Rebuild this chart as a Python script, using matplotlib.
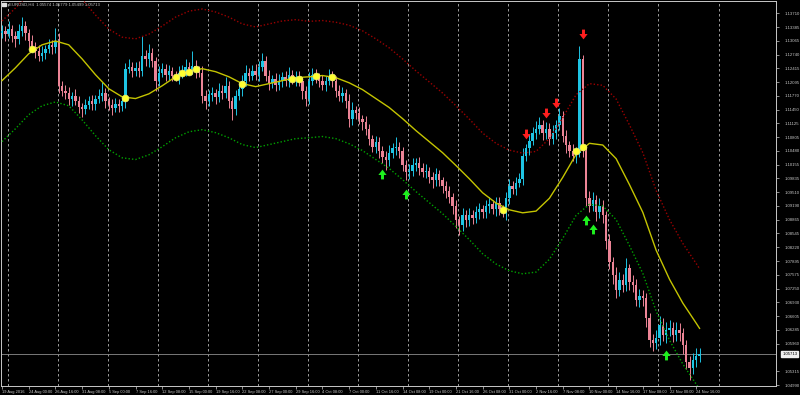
import matplotlib
matplotlib.use('Agg')
import matplotlib.pyplot as plt
import matplotlib.patches as mpatches
from matplotlib.path import Path
import numpy as np

# EURUSD H4 chart, prices kept in pips (price * 10000); one candle here = two H4 bars
title = 'EURUSD,H4  1.05574 1.05779 1.05499 1.05713'
last_price = 1.05713
open_first = 11325
closes = [
    11330, 11323, 11334, 11318, 11311, 11330, 11342, 11325, 11306, 11292,
    11283, 11271, 11278, 11288, 11297, 11292, 11306, 11201, 11189, 11185,
    11171, 11178, 11166, 11152, 11147, 11157, 11166, 11159, 11171, 11178,
    11185, 11166, 11157, 11150, 11159, 11154, 11166, 11241, 11246, 11236,
    11243, 11236, 11271, 11264, 11278, 11260, 11213, 11232, 11241, 11227,
    11236, 11225, 11222, 11232, 11236, 11246, 11241, 11248, 11236, 11232,
    11178, 11166, 11180, 11185, 11175, 11189, 11185, 11201, 11166, 11147,
    11178, 11194, 11213, 11232, 11225, 11236, 11227, 11246, 11260, 11225,
    11208, 11217, 11203, 11213, 11222, 11213, 11227, 11217, 11222, 11213,
    11189, 11171, 11213, 11227, 11222, 11213, 11203, 11213, 11222, 11213,
    11189, 11178, 11185, 11166, 11124, 11143, 11138, 11124, 11115, 11100,
    11077, 11058, 11068, 11049, 11035, 11026, 11044, 11054, 11058, 11049,
    11014, 10998, 11002, 11014, 11021, 11007, 10998, 11002, 10988, 10979,
    10993, 10979, 10965, 10955, 10941, 10920, 10885, 10874, 10897, 10885,
    10899, 10890, 10904, 10913, 10904, 10918, 10923, 10913, 10927, 10913,
    10909, 10937, 10967, 10960, 10974, 10983, 11037, 11054, 11072, 11091,
    11100, 11108, 11091, 11100, 11077, 11091, 11108, 11131, 11084, 11061,
    11049, 11037, 11044, 11264, 11049, 10937, 10920, 10932, 10904, 10920,
    10897, 10838, 10787, 10757, 10721, 10745, 10733, 10773, 10740, 10733,
    10698, 10707, 10703, 10656, 10604, 10597, 10609, 10640, 10616, 10628,
    10632, 10616, 10628, 10621, 10593, 10553, 10539, 10558, 10567, 10571]
upper_wick = [
    14, 10, 18, 9, 12, 16, 20, 11, 9, 14,
    11, 13, 16, 9, 14, 11, 31, 18, 11, 14,
    12, 9, 16, 11, 8, 14, 11, 13, 9, 16,
    24, 11, 9, 13, 14, 11, 9, 14, 18, 11,
    13, 16, 47, 14, 20, 11, 9, 16, 13, 11,
    14, 9, 11, 16, 13, 18, 11, 35, 14, 11,
    16, 13, 11, 14, 9, 18, 13, 20, 11, 9,
    14, 16, 13, 18, 11, 14, 16, 13, 19, 11,
    14, 9, 13, 16, 11, 14, 18, 11, 13, 14,
    9, 11, 20, 16, 13, 9, 14, 11, 18, 13,
    11, 14, 13, 9, 16, 20, 11, 13, 9, 14,
    11, 9, 16, 13, 11, 14, 18, 13, 22, 11,
    9, 13, 16, 18, 11, 14, 13, 16, 9, 11,
    14, 11, 9, 13, 11, 9, 14, 11, 18, 13,
    16, 11, 14, 13, 9, 16, 18, 11, 14, 13,
    9, 14, 16, 11, 13, 14, 18, 11, 16, 14,
    18, 20, 13, 16, 14, 18, 13, 18, 11, 14,
    11, 16, 13, 31, 9, 11, 16, 20, 13, 18,
    14, 11, 16, 13, 18, 20, 14, 24, 11, 16,
    14, 18, 16, 13, 11, 14, 20, 22, 16, 18,
    20, 14, 18, 16, 13, 11, 14, 16, 18, 14]
lower_wick = [
    13, 16, 9, 14, 18, 11, 13, 16, 14, 11,
    16, 13, 11, 14, 9, 16, 14, 18, 13, 16,
    14, 18, 11, 16, 20, 13, 11, 14, 16, 11,
    13, 16, 14, 18, 11, 14, 13, 16, 11, 14,
    11, 14, 13, 16, 18, 14, 24, 13, 11, 16,
    13, 14, 11, 16, 13, 11, 14, 13, 16, 11,
    18, 20, 13, 14, 16, 11, 14, 13, 18, 26,
    14, 11, 16, 13, 14, 11, 13, 16, 11, 14,
    16, 13, 14, 11, 16, 13, 14, 11, 16, 13,
    20, 18, 13, 11, 14, 16, 13, 14, 11, 16,
    14, 13, 16, 18, 20, 14, 16, 13, 18, 14,
    16, 13, 14, 18, 16, 22, 14, 13, 16, 18,
    14, 18, 16, 13, 14, 16, 11, 14, 16, 18,
    13, 14, 16, 18, 14, 20, 18, 24, 14, 16,
    13, 14, 11, 16, 13, 14, 16, 13, 18, 14,
    16, 24, 13, 14, 16, 11, 14, 13, 16, 11,
    14, 13, 18, 14, 16, 13, 14, 11, 16, 18,
    14, 13, 16, 11, 14, 18, 16, 13, 20, 14,
    18, 20, 16, 22, 18, 14, 16, 13, 18, 16,
    14, 16, 18, 20, 16, 18, 14, 16, 13, 18,
    14, 16, 13, 18, 20, 16, 28, 14, 16, 13]

# indicator values every 4 candles (plus the last candle)
ma_bar = list(range(0, 209, 4)) + [209]
ma_mid = [
    11213, 11243, 11276, 11297, 11306, 11297, 11264, 11227, 11194, 11175,
    11171, 11182, 11201, 11222, 11236, 11241, 11234, 11222, 11206, 11199,
    11206, 11213, 11220, 11222, 11225, 11220, 11208, 11192, 11171, 11150,
    11124, 11096, 11070, 11044, 11014, 10983, 10950, 10926, 10910, 10903,
    10907, 10937, 10986, 11040, 11066, 11062, 11030, 10969, 10904, 10815,
    10747, 10691, 10644, 10632]
ma_upper = [
    11353, 11383, 11416, 11437, 11446, 11437, 11404, 11367, 11334, 11315,
    11311, 11322, 11341, 11362, 11376, 11381, 11374, 11362, 11346, 11339,
    11346, 11353, 11356, 11352, 11354, 11350, 11343, 11330, 11311, 11290,
    11264, 11236, 11210, 11184, 11154, 11123, 11090, 11066, 11050, 11043,
    11047, 11077, 11126, 11180, 11206, 11202, 11170, 11109, 11044, 10955,
    10887, 10831, 10784, 10772]
ma_lower = [
    11070, 11100, 11133, 11154, 11163, 11154, 11121, 11084, 11051, 11032,
    11028, 11039, 11058, 11079, 11093, 11098, 11091, 11079, 11063, 11056,
    11063, 11070, 11077, 11079, 11082, 11077, 11065, 11049, 11028, 11007,
    10981, 10953, 10927, 10901, 10871, 10840, 10807, 10783, 10767, 10760,
    10764, 10794, 10843, 10897, 10923, 10919, 10887, 10826, 10761, 10672,
    10604, 10548, 10501, 10489]

dot_bar = [9, 37, 52, 54, 56, 58, 72, 87, 89, 94, 99, 150, 172, 174]
dot_price = [11288, 11173, 11222, 11232, 11234, 11241, 11206, 11217, 11217, 11225, 11222, 10909, 11047, 11058]
sell_bar = [157, 163, 166, 174]
sell_price = [11089, 11136, 11161, 11323]
buy_bar = [114, 121, 175, 177, 199]
buy_price = [10995, 10948, 10885, 10866, 10569]

time_labels = ['19 Aug 2016', '24 Aug 00:00', '26 Aug 16:00', '31 Aug 08:00', '5 Sep 00:00',
               '7 Sep 16:00', '12 Sep 08:00', '15 Sep 00:00', '19 Sep 16:00', '22 Sep 08:00',
               '27 Sep 00:00', '29 Sep 16:00', '4 Oct 08:00', '7 Oct 00:00', '11 Oct 16:00',
               '14 Oct 08:00', '19 Oct 00:00', '21 Oct 16:00', '26 Oct 08:00', '31 Oct 00:00',
               '2 Nov 16:00', '7 Nov 08:00', '10 Nov 00:00', '14 Nov 16:00', '17 Nov 08:00',
               '22 Nov 00:00', '24 Nov 16:00']
price_ticks = [1.13710, 1.13385, 1.13065, 1.12740, 1.12415, 1.12095, 1.11770, 1.11450,
               1.11125, 1.10805, 1.10480, 1.10155, 1.09835, 1.09510, 1.09190, 1.08865,
               1.08545, 1.08220, 1.07895, 1.07575, 1.07250, 1.06930, 1.06605, 1.06285,
               1.05960, 1.05315, 1.04990]

bull = '#1ec4e4'
bear = '#ec8496'
fg = '#c8c8c8'
fnt = 'Liberation Sans'

# arrow glyphs like the terminal's signal arrows
down_arrow = Path([(-0.42, 0.05), (-0.15, 0.05), (-0.15, 0.5), (0.15, 0.5), (0.15, 0.05),
                   (0.42, 0.05), (0.0, -0.5), (-0.42, 0.05)], closed=True)
up_arrow = Path([(-0.42, -0.05), (-0.15, -0.05), (-0.15, -0.5), (0.15, -0.5), (0.15, -0.05),
                 (0.42, -0.05), (0.0, 0.5), (-0.42, -0.05)], closed=True)

c = np.array(closes) / 1e4
o = np.r_[open_first / 1e4, c[:-1]]
h = np.maximum(o, c) + np.array(upper_wick) / 1e4
l = np.minimum(o, c) - np.array(lower_wick) / 1e4
x = np.arange(len(c))
col = np.where(c >= o, bull, bear)

fig = plt.figure(figsize=(8, 3.95), dpi=100, facecolor='black')
ax = fig.add_axes([1 / 800, 9 / 395, 775 / 800, 385 / 395])
ax.set_facecolor('black')

# vertical grid (every 30 H4 bars, last one wider as on the terminal)
for g in [1.8 + 14.98 * i for i in range(14)] + [214.8]:
    ax.axvline(g, color='#b4b4b4', lw=0.6, ls=(0, (3, 3)), zorder=0)

ax.axhline(last_price, color='#8c8c8c', lw=0.6, zorder=1)

ax.vlines(x, l, h, colors=col, lw=0.7, zorder=2)
ax.bar(x, np.maximum(np.abs(c - o), 0.00003), bottom=np.minimum(o, c), width=0.72,
       color=col, lw=0, zorder=3)

ax.plot(ma_bar, np.array(ma_upper) / 1e4, color='#9a0000', lw=1.0, ls=(0, (1, 1.5)), zorder=4)
ax.plot(ma_bar, np.array(ma_lower) / 1e4, color='#00a000', lw=1.0, ls=(0, (1, 1.5)), zorder=4)
ax.plot(ma_bar, np.array(ma_mid) / 1e4, color='#c4c400', lw=1.0, zorder=4)

ax.scatter(dot_bar, np.array(dot_price) / 1e4, s=24, color='#ffff30', edgecolors='#f0f070',
           linewidths=0.5, zorder=6)
ax.scatter(sell_bar, np.array(sell_price) / 1e4, marker=down_arrow, s=50, color='#ff1e1e',
           linewidths=0, zorder=7)
ax.scatter(buy_bar, np.array(buy_price) / 1e4, marker=up_arrow, s=50, color='#1ef01e',
           linewidths=0, zorder=7)

ax.set_xlim(-0.3, 231.9)
ax.set_ylim(1.04968, 1.13998)

ax.yaxis.tick_right()
ax.set_yticks(price_ticks)
ax.set_yticklabels(['%.5f' % v for v in price_ticks], fontsize=3.1, family=fnt, color=fg)
ax.tick_params(axis='y', length=2.5, width=0.5, color=fg, pad=3.5)

ax.set_xticks(range(0, 209, 8))
ax.set_xticklabels(time_labels, fontsize=2.9, family=fnt, color=fg, ha='left')
ax.tick_params(axis='x', length=2.0, width=0.5, color=fg, pad=0.8)

for s in ax.spines.values():
    s.set_color(fg)
    s.set_linewidth(0.7)

ax.annotate('%.5f' % last_price, xy=(1.0, last_price), xycoords=('axes fraction', 'data'),
            xytext=(4.5, 0), textcoords='offset points', fontsize=3.1, family=fnt,
            color='black', va='center', ha='left',
            bbox=dict(boxstyle='square,pad=0.25', fc='#f0f0f0', ec='#f0f0f0'))

fig.patches.append(mpatches.Rectangle((2 / 800, 1 - 6 / 395), 4 / 800, 3 / 395,
                                      transform=fig.transFigure, color='#e0e0e0'))
fig.text(9 / 800, 1 - 5 / 395, title, fontsize=3.1, family=fnt, color=fg, va='center')

fig.savefig('out.png', dpi=100, facecolor='black')
